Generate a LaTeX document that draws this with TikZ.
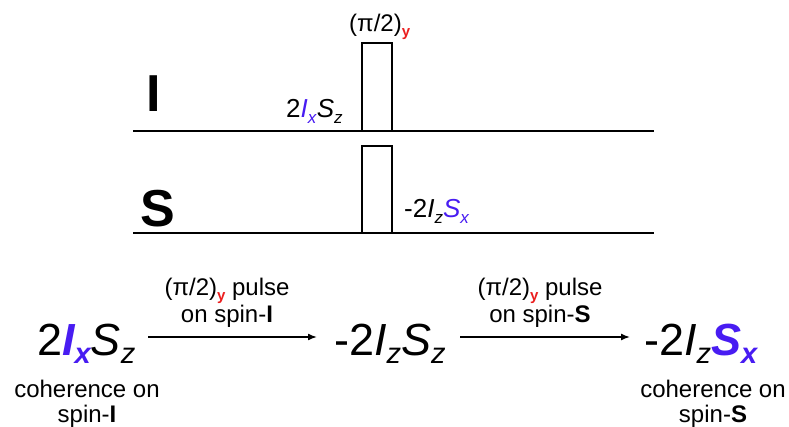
\documentclass[tikz,border=0pt]{standalone}
\usepackage{fontspec}
\usetikzlibrary{arrows.meta}
\setmainfont{Liberation Sans}
\definecolor{spinblue}{RGB}{72,28,242}
\definecolor{pulsered}{RGB}{235,30,30}
\newcommand\lsub[3][black]{\raisebox{-0.2em}{\fontsize{#2}{#2}\selectfont\color{#1}#3}}
\begin{document}
\begin{tikzpicture}[x=1pt,y=-1pt,
  seqline/.style={line width=2pt},
  pulsebox/.style={line width=2pt},
  chanlabel/.style={anchor=base west,inner sep=0pt,font=\fontsize{52}{56}\selectfont\bfseries},
  smallformula/.style={anchor=base west,inner sep=0pt,font=\fontsize{26}{30}\selectfont},
  bigformula/.style={anchor=base west,inner sep=0pt,font=\fontsize{45}{50}\selectfont},
  caption/.style={anchor=base,inner sep=0pt,font=\fontsize{24}{28}\selectfont},
  trans/.style={line width=1.5pt,-{Latex[length=9pt,width=7pt]}}]
\useasboundingbox[fill=white] (0,0) rectangle (789,427);
% channels
\coordinate (I0) at (133,131); \coordinate (I1) at (654,131);
\coordinate (S0) at (133,233); \coordinate (S1) at (654,233);
\draw[seqline] (I0) -- (I1);
\draw[seqline] (S0) -- (S1);
\draw[pulsebox] (362,131) -- (362,43) -- (392,43) -- (392,131);
\draw[pulsebox] (362,233) -- (362,146) -- (392,146) -- (392,233);
\node[chanlabel] (Ilab) at (146,112) {I};
\node[chanlabel] (Slab) at (140,227) {S};
\node[caption,anchor=base west] (p90) at (349,32) {(π/2)\lsub[pulsered]{15}{\bfseries y}};
\node[smallformula] (fI) at (286,118) {2\textit{\color{spinblue}I}\lsub[spinblue]{17}{\textit{x}}\textit{S}\lsub{17}{\textit{z}}};
\node[smallformula] (fS) at (404,218) {-2\textit{I}\lsub{17}{\textit{z}}\textit{\color{spinblue}S}\lsub[spinblue]{17}{\textit{x}}};
% bottom row
\node[bigformula] (A) at (37,355) {2{\bfseries\itshape\color{spinblue}I}\lsub[spinblue]{29}{\bfseries\itshape x}\textit{S}\lsub{29}{\itshape z}};
\node[bigformula] (B) at (334,355) {-2\textit{I}\lsub{29}{\itshape z}\textit{S}\lsub{29}{\itshape z}};
\node[bigformula] (C) at (644,355) {-2\textit{I}\lsub{29}{\itshape z}{\bfseries\itshape\color{spinblue}S}\lsub[spinblue]{29}{\bfseries\itshape x}};
\coordinate (a1s) at (148,337); \coordinate (a1e) at (317,337);
\coordinate (a2s) at (460,337); \coordinate (a2e) at (630,337);
\draw[trans] (a1s) -- (a1e);
\draw[trans] (a2s) -- (a2e);
\node[caption] (l1a) at (227,296) {(π/2)\lsub[pulsered]{15}{\bfseries y} pulse};
\node[caption] (l1b) at (227,323) {on spin-\textbf{I}};
\node[caption] (l2a) at (540,296) {(π/2)\lsub[pulsered]{15}{\bfseries y} pulse};
\node[caption] (l2b) at (540,323) {on spin-\textbf{S}};
\node[caption] (cA1) at (87,397) {coherence on};
\node[caption] (cA2) at (87,422) {spin-\textbf{I}};
\node[caption] (cC1) at (713,397) {coherence on};
\node[caption] (cC2) at (713,422) {spin-\textbf{S}};
\end{tikzpicture}
\end{document}
